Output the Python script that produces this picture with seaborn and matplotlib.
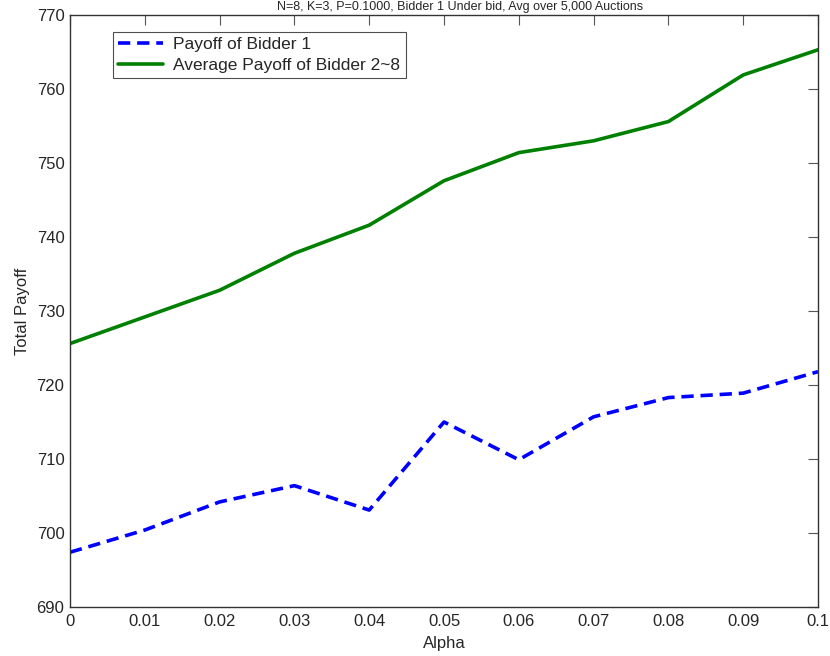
import matplotlib
matplotlib.use("Agg")
import matplotlib.pyplot as plt
import seaborn as sns
import pandas as pd

alpha = [0.0, 0.01, 0.02, 0.03, 0.04, 0.05, 0.06, 0.07, 0.08, 0.09, 0.1]
bidder1 = [697.4, 700.4, 704.2, 706.4, 703.1, 715.0, 709.9, 715.7, 718.3, 718.9, 721.8]
others = [725.6, 729.2, 732.8, 737.8, 741.6, 747.6, 751.4, 753.0, 755.6, 761.9, 765.3]
series_names = ["Payoff of Bidder 1", "Average Payoff of Bidder 2~8"]
x_ticks = [0, 0.01, 0.02, 0.03, 0.04, 0.05, 0.06, 0.07, 0.08, 0.09, 0.1]
x_tick_labels = ["0", "0.01", "0.02", "0.03", "0.04", "0.05", "0.06", "0.07", "0.08", "0.09", "0.1"]
y_ticks = [690, 700, 710, 720, 730, 740, 750, 760, 770]
title = "N=8, K=3, P=0.1000, Bidder 1 Under bid, Avg over 5,000 Auctions"

df = pd.DataFrame({
    "Alpha": alpha * 2,
    "Payoff": bidder1 + others,
    "Series": [series_names[0]] * len(alpha) + [series_names[1]] * len(alpha),
})

sns.set_style("white")
plt.rcParams["font.family"] = ["Liberation Sans", "DejaVu Sans"]

fig = plt.figure(figsize=(8.30, 6.56), dpi=100)
ax = fig.add_axes([70 / 830, 1 - 607 / 656, 748 / 830, 592 / 656])

sns.lineplot(
    data=df, x="Alpha", y="Payoff", hue="Series", style="Series",
    palette={series_names[0]: "#0000ff", series_names[1]: "#008000"},
    dashes={series_names[0]: (3.4, 1.9), series_names[1]: ""},
    linewidth=2.6, ax=ax, legend=True,
)

ax.set_xlim(0, 0.1)
ax.set_ylim(690, 770)
ax.set_xticks(x_ticks)
ax.set_xticklabels(x_tick_labels)
ax.set_yticks(y_ticks)
ax.tick_params(direction="in", length=7, width=0.8, color="#555555",
               top=True, right=True, labelsize=12)
ax.tick_params(axis="x", pad=5)
ax.tick_params(axis="y", pad=4)
for s in ax.spines.values():
    s.set_color("#333333")
    s.set_linewidth(1.0)
ax.set_xlabel("Alpha", fontsize=12, labelpad=5)
ax.set_ylabel("Total Payoff", fontsize=12, labelpad=5)

leg = ax.legend(loc="upper left", bbox_to_anchor=(0.057, 0.972), fontsize=12.5,
                frameon=True, fancybox=False, handlelength=2.6, borderpad=0.3,
                labelspacing=0.35, handletextpad=0.6, borderaxespad=0)
leg.get_frame().set_edgecolor("#222222")
leg.get_frame().set_linewidth(0.8)

fig.text(460 / 830, 1.0 - 1 / 656, title, ha="center", va="top", fontsize=9)

fig.savefig("out.png", dpi=100, facecolor="white")
